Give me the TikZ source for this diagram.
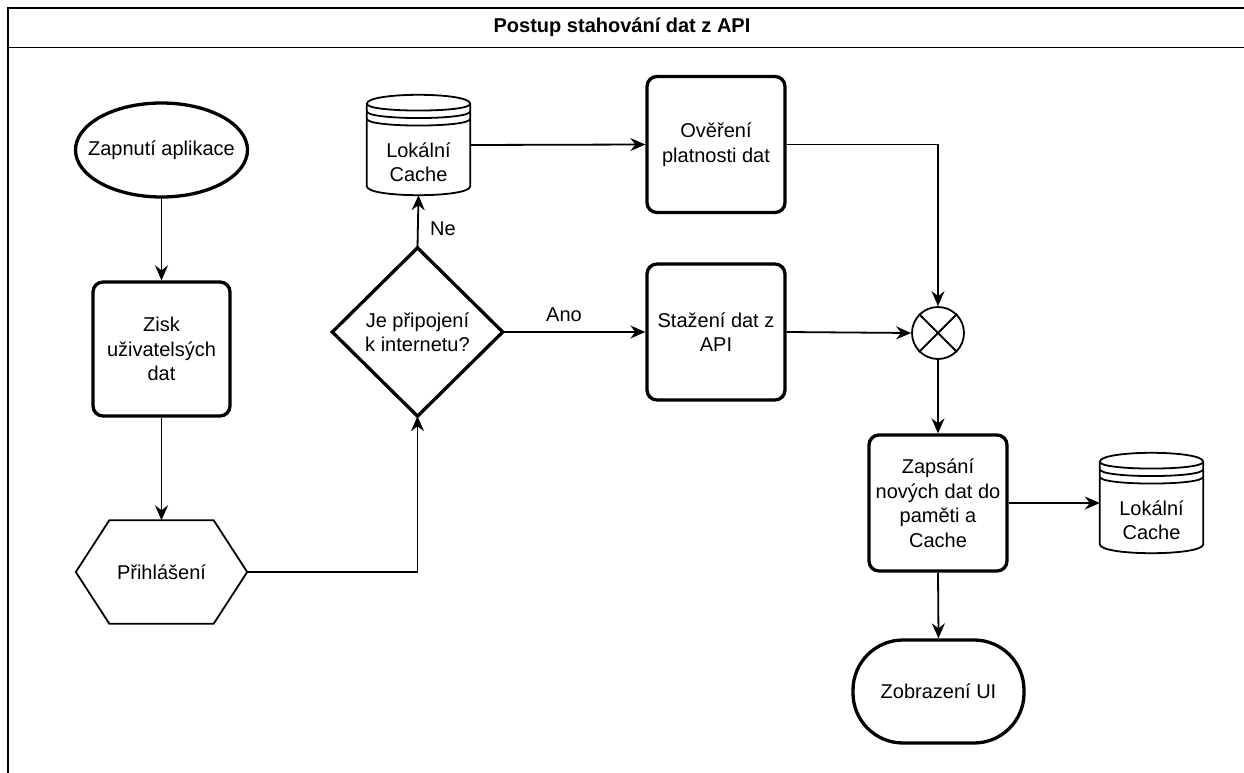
\documentclass[tikz,border=0pt]{standalone}
\usepackage{fontspec}
\setmainfont{Liberation Sans}
\usetikzlibrary{arrows.meta,calc}

% Data store (cylinder) outline drawn around a named placeholder node
\newcommand\storeshape[1]{%
  \draw[line width=1.8pt, fill=white]
    ($(#1.north west)+(0,9)$) .. controls ($(#1.north west)+(0,-3)$) and ($(#1.north east)+(0,-3)$) .. ($(#1.north east)+(0,9)$)
    -- ($(#1.south east)+(0,-9)$) .. controls ($(#1.south east)+(0,3)$) and ($(#1.south west)+(0,3)$) .. ($(#1.south west)+(0,-9)$)
    -- cycle;
  \foreach \k in {0,7.5,15} {%
    \draw[line width=1.8pt]
      ($(#1.north west)+(0,9+\k)$) .. controls ($(#1.north west)+(0,18+\k)$) and ($(#1.north east)+(0,18+\k)$) .. ($(#1.north east)+(0,9+\k)$);
  }%
}

\begin{document}
\begin{tikzpicture}[x=1pt,y=-1pt,
  every node/.style={font=\fontsize{20}{24.5}\selectfont},
  thinline/.style={line width=1.8pt},
  boldline/.style={line width=3.3pt},
  flow/.style={line width=1.8pt,-{Stealth[length=15pt,width=13pt,inset=5pt]}},
  proc/.style={draw,boldline,rectangle,rounded corners=10pt,minimum width=138pt,minimum height=136pt,align=center,inner sep=1pt},
  shapebox/.style={rectangle,draw=none,inner sep=0pt,align=center}
]
\useasboundingbox (0,0) rectangle (1244,773);
\clip (0,0) rectangle (1244,773);

% pool frame with title bar
\draw[line width=1.8pt] (8,790) -- (8,8) -- (1260,8);
\draw[line width=1.8pt] (8,47.5) -- (1260,47.5);
\node[font={\fontsize{20}{24}\selectfont\bfseries}] (title) at (622,27.5) {Postup stahování dat z API};

% left column
\node[shapebox, minimum width=172pt, minimum height=94pt] (start) at (161.5,150) {Zapnutí aplikace};
\draw[boldline] (start.center) ellipse [x radius=86pt, y radius=47pt];

\node[proc, minimum width=137pt, minimum height=134pt] (user) at (161.5,349) {Zisk\\uživatelsých\\dat};

\node[shapebox, minimum width=171pt, minimum height=103pt] (login) at (161.5,572) {Přihlášení};
\draw[thinline] (login.west) -- ($(login.north west)+(33.5,0)$) -- ($(login.north east)+(-33.5,0)$)
  -- (login.east) -- ($(login.south east)+(-33.5,0)$) -- ($(login.south west)+(33.5,0)$) -- cycle;

% decision
\node[shapebox, minimum width=170pt, minimum height=168pt] (net) at (417.5,332) {Je připojení\\k internetu?};
\draw[boldline, line join=miter] (net.north) -- (net.east) -- (net.south) -- (net.west) -- cycle;

% local cache (offline branch)
\node[shapebox, minimum width=103pt, minimum height=100pt] (cache1) at (418.5,145) {};
\storeshape{cache1}
\node[align=center] (cache1text) at ($(cache1.center)+(0,17)$) {Lokální\\Cache};

% middle column
\node[proc] (verify) at (716,144.5) {Ověření\\platnosti dat};
\node[proc] (download) at (716,332) {Stažení dat z\\API};

% merge
\node[draw, thinline, circle, minimum size=52pt, inner sep=0pt] (merge) at (938,333) {};
\draw[thinline] (merge.45) -- (merge.225) (merge.135) -- (merge.315);

% right column
\node[proc] (write) at (938,503) {Zapsání\\nových dat do\\paměti a\\Cache};
\node[shapebox, minimum width=103pt, minimum height=100pt] (cache2) at (1151.5,503) {};
\storeshape{cache2}
\node[align=center] (cache2text) at ($(cache2.center)+(0,17)$) {Lokální\\Cache};

\node[draw, boldline, rectangle, rounded corners=50pt, minimum width=171pt, minimum height=103pt] (show) at (938.5,691.5) {Zobrazení UI};

% connectors
\draw[flow] (start.south) -- (user.north);
\draw[flow] (user.south) -- (login.north);
\draw[flow] (login.east) -| (net.south);
\draw[flow] (net.north) -- (cache1.south);
\node (lblNe) at (443,229) {Ne};
\draw[flow] (net.east) -- (download.west);
\node (lblAno) at (564,315) {Ano};
\draw[flow] (cache1.east) -- (verify.west);
\draw[flow] (verify.east) -| (merge.north);
\draw[flow] (download.east) -- (merge.west);
\draw[flow] (merge.south) -- (write.north);
\draw[flow] (write.east) -- (cache2.west);
\draw[flow] (write.south) -- (show.north);
\end{tikzpicture}
\end{document}
